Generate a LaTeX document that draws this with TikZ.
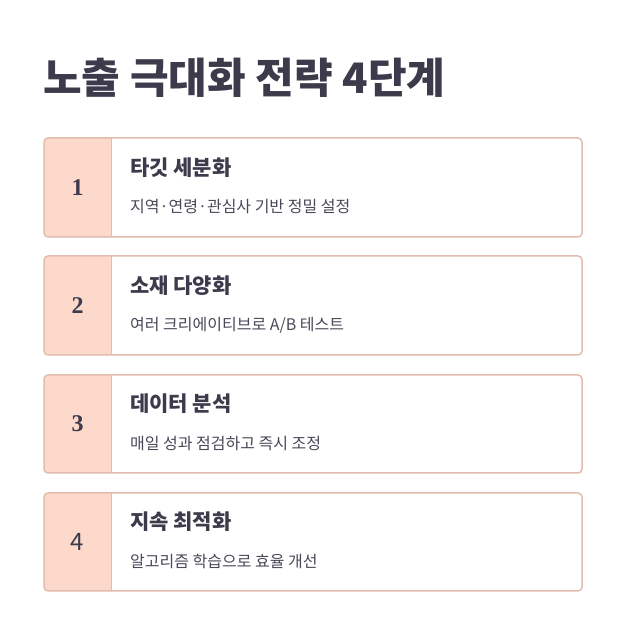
\documentclass[tikz,border=0pt]{standalone}
\usepackage{fontspec}
\setmainfont{Noto Sans CJK KR}
\newfontfamily\krfont{Noto Sans CJK KR}
\newfontfamily\numserif{Liberation Serif}
\definecolor{ink}{HTML}{3D3A4C}
\definecolor{subink}{HTML}{4A4858}
\definecolor{cardline}{HTML}{E3BCAE}
\definecolor{panel}{HTML}{FDD9CB}
\tikzset{
  x=1pt,y=1pt,
  card/.style={draw=cardline,line width=1.5pt,rounded corners=4pt,fill=white},
  numtext/.style={text=ink,font=\numserif\bfseries\fontsize{24}{24}\selectfont,anchor=center},
  ttl/.style={text=ink,font=\krfont\bfseries\fontsize{21}{21}\selectfont,anchor=west,inner sep=0pt},
  sub/.style={text=subink,font=\krfont\fontsize{16}{16}\selectfont,anchor=west,inner sep=0pt},
}
\begin{document}
\begin{tikzpicture}
\useasboundingbox[fill=white] (0,0) rectangle (632,633);
\node[anchor=west,inner sep=0pt,text=ink,font=\krfont\bfseries\fontsize{42}{42}\selectfont] (title) at (43,555) {노출 극대화 전략 4단계};
\foreach \i/\top/\bot/\num/\ta/\tb in {
  1/138/237/1/{타깃 세분화}/{지역·연령·관심사 기반 정밀 설정},
  2/256/355/2/{소재 다양화}/{여러 크리에이티브로 A/B 테스트},
  3/375/473/3/{데이터 분석}/{매일 성과 점검하고 즉시 조정},
  4/493/591/4/{지속 최적화}/{알고리즘 학습으로 효율 개선}}{
  \pgfmathsetmacro{\yt}{633-\top}
  \pgfmathsetmacro{\yb}{633-\bot}
  \pgfmathsetmacro{\yc}{(\yt+\yb)/2}
  \begin{scope}
    \clip[rounded corners=4pt] (44,\yb) rectangle (582,\yt);
    \fill[panel] (44,\yb) rectangle (111,\yt);
    \draw[cardline,line width=1pt] (111,\yb) -- (111,\yt);
  \end{scope}
  \draw[card,fill=none] (44,\yb) rectangle (582,\yt);
  \node[numtext] (n\i) at (77.5,\yc) {\ifnum\i=4 {\krfont\mdseries\fontsize{24}{24}\selectfont 4}\else\num\fi};
  \node[ttl] (t\i) at (130,\yc+20) {\ta};
  \node[sub] (s\i) at (130,\yc-19.5) {\tb};
}
\end{tikzpicture}
\end{document}
